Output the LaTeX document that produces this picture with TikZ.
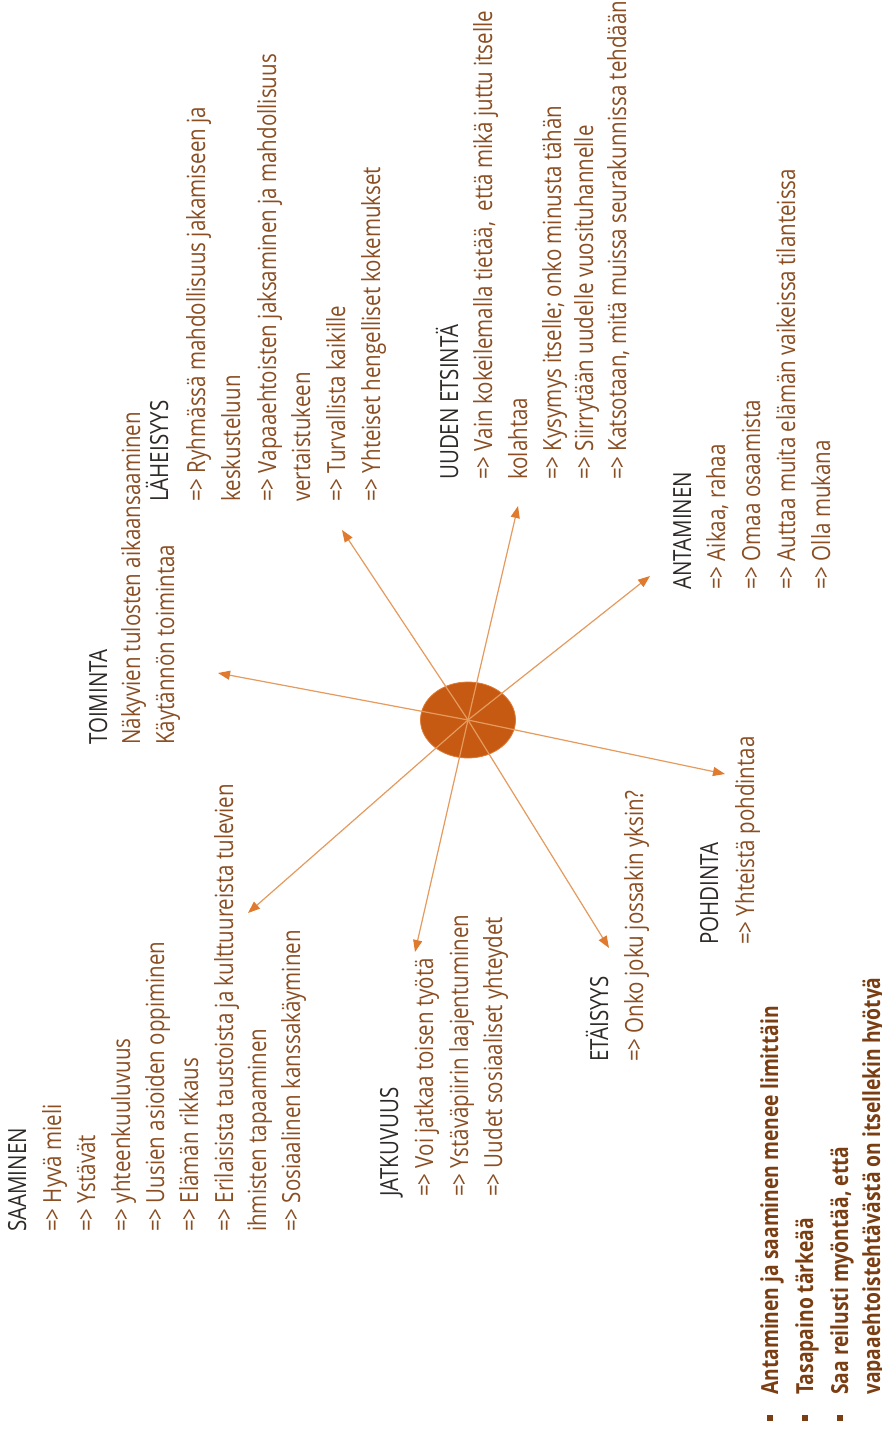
\documentclass[tikz,border=0pt]{standalone}
\usepackage{fontspec}
\setmainfont[FakeStretch=0.82]{Open Sans}
\usetikzlibrary{arrows.meta,shapes.geometric}
\definecolor{headc}{HTML}{2E2A28}
\definecolor{itemc}{HTML}{8A4E22}
\definecolor{boldc}{HTML}{7A3E12}
\definecolor{discc}{HTML}{C65A12}
\definecolor{discedge}{HTML}{DE7A36}
\definecolor{rayc}{HTML}{E59A5E}
\definecolor{tipc}{HTML}{E07A2E}
\tikzset{
  txt/.style={rotate=90, anchor=base west, inner sep=0pt, font=\fontsize{25}{30}\selectfont},
  head/.style={txt, text=headc},
  item/.style={txt, text=itemc},
  bitem/.style={txt, text=boldc, font=\fontsize{23.5}{28}\selectfont\bfseries},
  ray/.style={draw=rayc, line width=1.2pt, -{Triangle[length=12pt,width=9pt,color=tipc]}},
  bsq/.style={fill=boldc, minimum size=6.5pt, inner sep=0pt, rotate=90}
}
\begin{document}
\begin{tikzpicture}[x=1pt,y=-1pt]
\useasboundingbox (0,0) rectangle (882,1432);
\fill[white] (0,0) rectangle (882,1432);
% SAAMINEN
\node[head] (s0) at (26,1232) {SAAMINEN};
\node[item] (s1) at (61,1232) {=> Hyvä mieli};
\node[item] (s2) at (95,1232) {=> Ystävät};
\node[item] (s3) at (130,1232) {=> yhteenkuuluvuus};
\node[item] (s4) at (164,1232) {=> Uusien asioiden oppiminen};
\node[item] (s5) at (198,1232) {=> Elämän rikkaus};
\node[item] (s6) at (233,1232) {=> Erilaisista taustoista ja kulttuureista tulevien};
\node[item] (s7) at (266,1232) {ihmisten tapaaminen};
\node[item] (s8) at (300,1232) {=> Sosiaalinen kanssakäyminen};
% TOIMINTA
\node[head] (t0) at (107,745) {TOIMINTA};
\node[item] (t1) at (140,745) {Näkyvien tulosten aikaansaaminen};
\node[item] (t2) at (174,745) {Käytännön toimintaa};
% LAHEISYYS
\node[head] (l0) at (168,502) {LÄHEISYYS};
\node[item] (l1) at (205,502) {=> Ryhmässä mahdollisuus jakamiseen ja};
\node[item] (l2) at (240,502) {keskusteluun};
\node[item] (l3) at (276,502) {=> Vapaaehtoisten jaksaminen ja mahdollisuus};
\node[item] (l4) at (310,502) {vertaistukeen};
\node[item] (l5) at (345,502) {=> Turvallista kaikille};
\node[item] (l6) at (380,502) {=> Yhteiset hengelliset kokemukset};
% UUDEN ETSINTA
\node[head] (u0) at (458,480) {UUDEN ETSINTÄ};
\node[item] (u1) at (492,480) {=> Vain kokeilemalla tietää, \ että mikä juttu itselle};
\node[item] (u2) at (527,480) {kolahtaa};
\node[item] (u3) at (561,480) {=> Kysymys itselle; onko minusta tähän};
\node[item] (u4) at (593,480) {=> Siirrytään uudelle vuosituhannelle};
\node[item] (u5) at (626,480) {=> Katsotaan, mitä muissa seurakunnissa tehdään};
% ANTAMINEN
\node[head] (a0) at (691,590) {ANTAMINEN};
\node[item] (a1) at (725,590) {=> Aikaa, rahaa};
\node[item] (a2) at (760,590) {=> Omaa osaamista};
\node[item] (a3) at (795,590) {=> Auttaa muita elämän vaikeissa tilanteissa};
\node[item] (a4) at (830,590) {=> Olla mukana};
% POHDINTA
\node[head] (p0) at (718,945) {POHDINTA};
\node[item] (p1) at (754,945) {=> Yhteistä pohdintaa};
% ETAISYYS
\node[head] (e0) at (608,1062) {ETÄISYYS};
\node[item] (e1) at (643,1062) {=> Onko joku jossakin yksin?};
% JATKUVUUS
\node[head] (j0) at (398,1197) {JATKUVUUS};
\node[item] (j1) at (433,1197) {=> Voi jatkaa toisen työtä};
\node[item] (j2) at (468,1197) {=> Ystäväpiirin laajentuminen};
\node[item] (j3) at (502,1197) {=> Uudet sosiaaliset yhteydet};
% bullets
\node[bitem] (b1) at (778,1395) {Antaminen ja saaminen menee limittäin};
\node[bitem] (b2) at (813,1395) {Tasapaino tärkeää};
\node[bitem] (b3) at (848,1395) {Saa reilusti myöntää, että};
\node[bitem] (b4) at (880,1395) {vapaaehtoistehtävästä on itsellekin hyötyä};
\node[bsq] (q1) at (770,1418) {};
\node[bsq] (q2) at (805,1418) {};
\node[bsq] (q3) at (840,1418) {};
% centre disc
\node[ellipse, fill=discc, draw=discedge, line width=0.8pt, minimum width=95pt, minimum height=76pt, inner sep=0pt] (c) at (468,720) {};
\coordinate (tT) at (218,673);
\coordinate (tL) at (342,530);
\coordinate (tU) at (518,506);
\coordinate (tA) at (650,576);
\coordinate (tP) at (725,774);
\coordinate (tE) at (609,948);
\coordinate (tJ) at (415,952);
\coordinate (tS) at (248,913);
\foreach \t in {tT,tL,tU,tA,tP,tE,tJ,tS}{\draw[ray] (c.center) -- (\t);}
\end{tikzpicture}
\end{document}
